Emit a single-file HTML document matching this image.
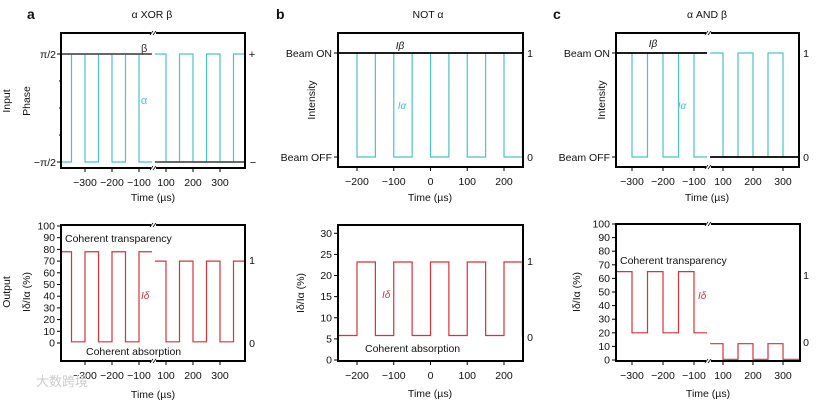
<!DOCTYPE html>
<html><head><meta charset="utf-8">
<style>
html,body{margin:0;padding:0;background:#fff;}
svg{display:block;font-family:"Liberation Sans",Arial,sans-serif;}
</style></head>
<body>
<svg id="fig" width="820" height="402" viewBox="0 0 820 402" xmlns="http://www.w3.org/2000/svg"></svg>
<script>
// ---------- DATA ----------
// Panel a (XOR): phase in units of pi/2
const aLeftTimes = [-389,-350,-300,-250,-200,-150,-100,-52];
const aAlphaLeft = [-1,1,-1,1,-1,1,-1];
const aRightTimes = [59,100,150,200,250,300,350,393];
const aAlphaRight = [1,-1,1,-1,1,-1,1];
const aBetaLeft = 1, aBetaRight = -1;
const aOutLeft = [78,1,78,1,78,1,78];
const aOutRight = [70,1,70,1,70,1,70];
const aTickLeft = [-300,-200,-100];
const aTickRight = [100,200,300];
const aOutTicks = [0,10,20,30,40,50,60,70,80,90,100];
// Panel b (NOT)
const bTimes = [-251,-200,-150,-100,-50,0,50,100,150,200,250,253];
const bAlpha = [1,0,1,0,1,0,1,0,1,0,1];
const bBeta = 1;
const bOut = [5.8,23.2,5.8,23.2,5.8,23.2,5.8,23.2,5.8,23.2,5.8];
const bTicks = [-200,-100,0,100,200];
const bOutTicks = [0,5,10,15,20,25,30];
// Panel c (AND)
const cLeftTimes = [-352,-300,-250,-200,-150,-100,-58];
const cAlphaLeft = [1,0,1,0,1,0];
const cRightTimes = [57,100,150,200,250,300,353];
const cAlphaRight = [1,0,1,0,1,0];
const cBetaLeft = 1, cBetaRight = 0;
const cOutLeft = [65,20,65,20,65,20];
const cOutRight = [12,0.5,12,0.5,12,0.5];
const cTickLeft = [-300,-200,-100];
const cTickRight = [100,200,300];
const cOutTicks = [0,10,20,30,40,50,60,70,80,90,100];

// ---------- HELPERS ----------
const svg = document.getElementById('fig');
const NS = 'http://www.w3.org/2000/svg';
const CYAN = '#4cc3c8', RED = '#d8323a';
function mk(tag, attrs, parent){
  const e = document.createElementNS(NS, tag);
  for (const k in attrs) e.setAttribute(k, attrs[k]);
  (parent||svg).appendChild(e);
  return e;
}
function txt(x,y,s,size,anchor,extra){
  const t = mk('text', Object.assign({x:x,y:y,'font-size':size||10,'text-anchor':anchor||'middle',fill:'#111'}, extra||{}));
  t.textContent = s;
  
  
  return t;
}
function lin(t0,x0,t1,x1){ return t => x0 + (t - t0) * (x1 - x0) / (t1 - t0); }
function step(times, levels, xf, yf, color, w, name){
  let d = '';
  for (let i=0;i<levels.length;i++){
    const xa = xf(times[i]), xb = xf(times[i+1]), y = yf(levels[i]);
    d += (i===0 ? 'M'+xa+','+y : ' L'+xa+','+y) + ' L'+xb+','+y;
  }
  const p = mk('path',{d:d,fill:'none',stroke:color,'stroke-width':w||1.2});
  
  
  return p;
}
function box(x0,y0,x1,y1,name){
  const r = mk('rect',{x:x0,y:y0,width:x1-x0,height:y1-y0,fill:'none',stroke:'#000','stroke-width':2});
  
  
}
function brk(x,y0,y1){
  [y0,y1].forEach(y=>{
    mk('rect',{x:x-2,y:y-2,width:5,height:4,fill:'#fff'});
    mk('line',{x1:x-3,y1:y+2,x2:x,y2:y-2,stroke:'#000','stroke-width':0.8});
    mk('line',{x1:x,y1:y+2,x2:x+3,y2:y-2,stroke:'#000','stroke-width':0.8});
  });
}
function xticks(ticks, xf, yb){
  ticks.forEach(t=>{
    const x = xf(t);
    mk('line',{x1:x,y1:yb,x2:x,y2:yb+4,stroke:'#000','stroke-width':1});
    txt(x, yb+18, (t<0?'\u2212'+(-t):String(t)), 10.5);
  });
}
function yticks(ticks, yf, xl){
  ticks.forEach(v=>{
    const y = yf(v);
    mk('line',{x1:xl-4,y1:y,x2:xl,y2:y,stroke:'#000','stroke-width':1});
    txt(xl-6, y+3.5, String(v), 10.5, 'end');
  });
}
function rot(x,y,s,size){
  return txt(x,y,s,size||10.5,'middle',{transform:'rotate(-90 '+x+' '+y+')'});
}

// ---------- PANEL a ----------
txt(27,19,'a',14,'start',{'font-weight':'bold'});
txt(152,18,'\u03b1 XOR \u03b2',10.5);
{
  const xl = lin(-300,85,-100,139), xr = lin(100,166,300,220);
  const yf = v => 108 - 54*v;
  step(aLeftTimes,aAlphaLeft,xl,yf,CYAN,1.2,'alpha-a-left');
  step(aRightTimes,aAlphaRight,xr,yf,CYAN,1.2,'alpha-a-right');
  step([aLeftTimes[0],aLeftTimes[aLeftTimes.length-1]],[aBetaLeft],xl,yf,'#555',1.8,'beta-a-left');
  step([aRightTimes[0],aRightTimes[aRightTimes.length-1]],[aBetaRight],xr,yf,'#555',1.8,'beta-a-right');
  box(61,33,245,168,'plot-a-top'); brk(153,33,168);
  [1,-1].forEach(v=>mk('line',{x1:57,y1:yf(v),x2:61,y2:yf(v),stroke:'#000'}));
  [0.5,0,-0.5].forEach(v=>mk('line',{x1:59,y1:yf(v),x2:61,y2:yf(v),stroke:'#000'}));
  txt(56,58,'\u03c0/2',10.5,'end'); txt(56,166,'\u2212\u03c0/2',10.5,'end');
  txt(252,58,'+',11); txt(253,166,'\u2212',11);
  txt(141,52,'\u03b2',11,'start',{fill:'#333'});
  txt(144,104,'\u03b1',11,'middle',{fill:CYAN});
  xticks(aTickLeft,xl,168); xticks(aTickRight,xr,168);
  txt(153,201,'Time (\u00b5s)',10.5);
  rot(10,101,'Input'); rot(30,101,'Phase');

  const yo = lin(0,343,100,226);
  step(aLeftTimes,aOutLeft,xl,yo,RED,1.2,'output-a-left');
  step(aRightTimes,aOutRight,xr,yo,RED,1.2,'output-a-right');
  box(61,225,245,361,'plot-a-bottom'); brk(153,225,361);
  yticks(aOutTicks,yo,61);
  txt(252,264,'1',10.5); txt(252,347,'0',10.5);
  txt(65,242,'Coherent transparency',10.5,'start');
  txt(86,355,'Coherent absorption',10.5,'start');
  txt(141,299,'I\u03b4',10,'start',{fill:RED,'font-style':'italic'});
  xticks(aTickLeft,xl,361); xticks(aTickRight,xr,361);
  txt(153,398,'Time (\u00b5s)',10.5);
  rot(10,292,'Output'); rot(30,292,'I\u03b4/I\u03b1 (%)');
}

// ---------- PANEL b ----------
txt(276,19,'b',14,'start',{'font-weight':'bold'});
txt(428,18,'NOT \u03b1',10.5);
{
  const xf = lin(-200,357,200,504);
  const yf = v => 157 - 104*v;
  step(bTimes,bAlpha,xf,yf,CYAN,1.2,'alpha-b');
  step([bTimes[0],bTimes[bTimes.length-1]],[bBeta],xf,yf,'#000',1.8,'beta-b');
  box(338,33,523,167,'plot-b-top');
  [1,0].forEach(v=>mk('line',{x1:334,y1:yf(v),x2:338,y2:yf(v),stroke:'#000'}));
  txt(332,57,'Beam ON',10.5,'end'); txt(332,161,'Beam OFF',10.5,'end');
  txt(530,57,'1',10.5); txt(530,161,'0',10.5);
  txt(400,49,'I\u03b2',10,'middle',{'font-style':'italic'});
  txt(402,109,'I\u03b1',10,'middle',{fill:CYAN,'font-style':'italic'});
  xticks(bTicks,xf,167);
  txt(430,201,'Time (\u00b5s)',10.5);
  rot(315,100,'Intensity');

  const yo = lin(0,360,30,233.3);
  step(bTimes,bOut,xf,yo,RED,1.2,'output-b');
  box(338,225,523,361,'plot-b-bottom');
  yticks(bOutTicks,yo,338);
  txt(530,265,'1',10.5); txt(530,341,'0',10.5);
  txt(365,352,'Coherent absorption',10.5,'start');
  txt(382,298,'I\u03b4',10,'start',{fill:RED,'font-style':'italic'});
  xticks(bTicks,xf,361);
  txt(430,397,'Time (\u00b5s)',10.5);
  rot(304,293,'I\u03b4/I\u03b1 (%)');
}

// ---------- PANEL c ----------
txt(553,19,'c',14,'start',{'font-weight':'bold'});
txt(707,18,'\u03b1 AND \u03b2',10.5);
{
  const xl = lin(-300,632,-100,694), xr = lin(100,723,300,783);
  const yf = v => 157 - 104*v;
  step(cLeftTimes,cAlphaLeft,xl,yf,CYAN,1.2,'alpha-c-left');
  step(cRightTimes,cAlphaRight,xr,yf,CYAN,1.2,'alpha-c-right');
  step([cLeftTimes[0],cLeftTimes[cLeftTimes.length-1]],[cBetaLeft],xl,yf,'#000',1.8,'beta-c-left');
  step([cRightTimes[0],cRightTimes[cRightTimes.length-1]],[cBetaRight],xr,yf,'#000',1.8,'beta-c-right');
  box(616,33,799,167,'plot-c-top'); brk(708,33,167);
  [1,0].forEach(v=>mk('line',{x1:612,y1:yf(v),x2:616,y2:yf(v),stroke:'#000'}));
  txt(610,57,'Beam ON',10.5,'end'); txt(610,161,'Beam OFF',10.5,'end');
  txt(806,57,'1',10.5); txt(806,161,'0',10.5);
  txt(653,47,'I\u03b2',10,'middle',{'font-style':'italic'});
  txt(682,109,'I\u03b1',10,'middle',{fill:CYAN,'font-style':'italic'});
  xticks(cTickLeft,xl,167); xticks(cTickRight,xr,167);
  txt(707,201,'Time (\u00b5s)',10.5);
  rot(605,100,'Intensity');

  const yo = lin(0,360,100,224);
  step(cLeftTimes,cOutLeft,xl,yo,RED,1.2,'output-c-left');
  step(cRightTimes,cOutRight,xr,yo,RED,1.2,'output-c-right');
  box(616,224,800,361,'plot-c-bottom'); brk(708,224,361);
  yticks(cOutTicks,yo,616);
  txt(806,279,'1',10.5); txt(806,346,'0',10.5);
  txt(620,264,'Coherent transparency',10.5,'start');
  txt(698,299,'I\u03b4',10,'start',{fill:RED,'font-style':'italic'});
  xticks(cTickLeft,xl,361); xticks(cTickRight,xr,361);
  txt(708,397,'Time (\u00b5s)',10.5);
  rot(580,292,'I\u03b4/I\u03b1 (%)');
}
// watermark
txt(36,386,'\u5927\u6570\u8de8\u5883',13,'start',{fill:'#ccc','font-family':'"Liberation Sans","Noto Sans CJK SC",sans-serif'});
</script>
</body></html>
